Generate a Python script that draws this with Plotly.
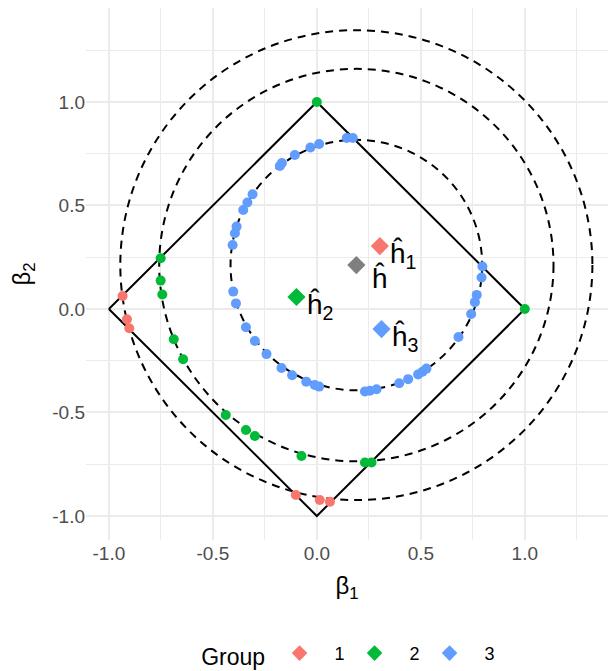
import plotly.graph_objects as go

# ---- data ----
g1_x = [-0.934, -0.913, -0.902, -0.101, 0.014, 0.063]
g1_y = [0.063, -0.050, -0.093, -0.899, -0.923, -0.931]

g2_x = [0.0, 1.0, -0.751, -0.751, -0.743, -0.688, -0.643, -0.438, -0.341, -0.298, -0.074, 0.231, 0.263]
g2_y = [1.0, 0.0, 0.245, 0.137, 0.070, -0.146, -0.243, -0.512, -0.585, -0.614, -0.710, -0.742, -0.742]

g3_x = [0.144, 0.173, 0.011, -0.031, -0.106, -0.168, -0.178, -0.309, -0.334, -0.354, -0.386, -0.394,
        -0.405, -0.402, -0.389, -0.341, -0.298, -0.242, -0.170, -0.119, -0.051, -0.010, 0.011, 0.231,
        0.255, 0.287, 0.396, 0.439, 0.487, 0.508, 0.527, 0.681, 0.742, 0.760, 0.769, 0.792, 0.796]
g3_y = [0.826, 0.826, 0.797, 0.780, 0.744, 0.705, 0.691, 0.554, 0.514, 0.478, 0.398, 0.366,
        0.309, 0.084, 0.027, -0.088, -0.155, -0.218, -0.285, -0.320, -0.351, -0.367, -0.375, -0.399,
        -0.395, -0.388, -0.359, -0.339, -0.316, -0.303, -0.288, -0.135, -0.024, 0.033, 0.068, 0.152, 0.205]

h_center = (0.19, 0.212)
h_group_x = [0.303, -0.098, 0.311]
h_group_y = [0.304, 0.058, -0.097]
group_names = ["1", "2", "3"]
circle_radii = [0.605, 0.948, 1.135]

l1_x = [-1, 0, 1, 0, -1]
l1_y = [0, 1, 0, -1, 0]

tick_vals = [-1.0, -0.5, 0.0, 0.5, 1.0]
tick_text = ["-1.0", "-0.5", "0.0", "0.5", "1.0"]
minor_vals = [-0.75, -0.25, 0.25, 0.75, 1.25]

colors = ["#F8766D", "#00BA38", "#619CFF"]
FONT = "Liberation Sans, Arial, sans-serif"
NB = "\u00a0"

fig = go.Figure()

# dashed circles
for r in circle_radii:
    fig.add_shape(type="circle", xref="x", yref="y",
                  x0=h_center[0] - r, x1=h_center[0] + r,
                  y0=h_center[1] - r, y1=h_center[1] + r,
                  line=dict(color="black", width=2, dash="8px,6px"), layer="between")

# L1 ball
fig.add_trace(go.Scatter(x=l1_x, y=l1_y, mode="lines",
                         line=dict(color="black", width=2), showlegend=False, hoverinfo="skip"))

pts = [(g1_x, g1_y), (g2_x, g2_y), (g3_x, g3_y)]
for i, (xs, ys) in enumerate(pts):
    fig.add_trace(go.Scatter(x=xs, y=ys, mode="markers",
                             marker=dict(color=colors[i], size=10, symbol="circle"),
                             legendgroup=group_names[i], showlegend=False))

for i in range(3):
    fig.add_trace(go.Scatter(x=[h_group_x[i]], y=[h_group_y[i]], mode="markers",
                             marker=dict(color=colors[i], size=14, symbol="diamond"),
                             name=NB * 3 + group_names[i], legendgroup=group_names[i], showlegend=True))

fig.add_trace(go.Scatter(x=[h_center[0]], y=[h_center[1]], mode="markers",
                         marker=dict(color="#7F7F7F", size=14, symbol="diamond"),
                         showlegend=False))

# labels
labels = ["ĥ<sub>1</sub>", "ĥ<sub>2</sub>", "ĥ<sub>3</sub>"]
for i in range(3):
    fig.add_annotation(x=h_group_x[i] + 0.04, y=h_group_y[i] - 0.045, text=labels[i],
                       showarrow=False, xanchor="left", yanchor="middle",
                       font=dict(family=FONT, size=28, color="black"))
fig.add_annotation(x=h_center[0] + 0.065, y=h_center[1] - 0.06, text="ĥ",
                   showarrow=False, xanchor="left", yanchor="middle",
                   font=dict(family=FONT, size=28, color="black"))

axis_common = dict(
    tickvals=tick_vals, ticktext=tick_text,
    showgrid=True, gridcolor="#EBEBEB", gridwidth=1.8,
    zeroline=False, showline=False, ticks="", automargin=False,
    tickfont=dict(family=FONT, size=19, color="#4D4D4D"),
    minor=dict(tickvals=minor_vals, showgrid=True, gridcolor="#EBEBEB", gridwidth=1),
)

fig.update_xaxes(range=[-1.11, 1.40],
                 title=dict(text="β<sub>1</sub>", font=dict(family=FONT, size=24, color="black"), standoff=14),
                 **axis_common)
fig.update_yaxes(range=[-1.116, 1.454],
                 title=dict(text="β<sub>2</sub>", font=dict(family=FONT, size=24, color="black"), standoff=14),
                 **axis_common)

fig.update_layout(
    width=608, height=671,
    margin=dict(l=86, r=0, t=8, b=131),
    plot_bgcolor="white", paper_bgcolor="white",
    font=dict(family=FONT),
    legend=dict(orientation="h", x=0.51, xanchor="center", yref="container", y=0.024, yanchor="middle",
                title=dict(text="Group" + NB, font=dict(family=FONT, size=23, color="black"), side="left"),
                font=dict(family=FONT, size=18, color="black"),
                entrywidth=30, itemsizing="constant"),
    hovermode=False,
)

fig.write_html("out.html", config={"displayModeBar": False},
               post_script="document.body.style.margin='0';document.body.style.overflow='hidden';")
